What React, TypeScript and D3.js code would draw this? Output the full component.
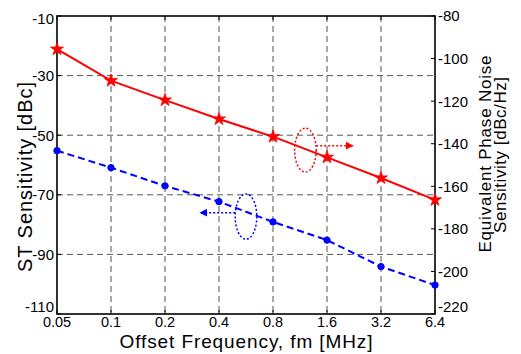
import { useEffect, useRef } from "react";
import * as d3 from "d3";

const freqs = ["0.05", "0.1", "0.2", "0.4", "0.8", "1.6", "3.2", "6.4"];
// left axis: ST sensitivity [dBc]
const stSensitivity = [-55.2, -60.9, -67.0, -72.3, -79.1, -85.2, -94.1, -100.3];
// right axis: equivalent phase noise sensitivity [dBc/Hz]
const phaseNoise = [-95.6, -110.4, -119.5, -128.4, -136.7, -146.4, -156.1, -166.4];
const leftTicks = [-110, -90, -70, -50, -30, -10];
const rightTicks = [-220, -200, -180, -160, -140, -120, -100, -80];

// annotation ellipses / arrows, in data units (x = category index)
const redNote = { cx: 4.6, cy: -143, rx: 0.2, ry: 10.3, x0: 4.8, x1: 5.48, y: -140.9 };
const blueNote = { cx: 3.5, cy: -77.3, rx: 0.2, ry: 7.6, x0: 3.3, x1: 2.65, y: -76 };

const App = () => {
  const svgRef = useRef<SVGSVGElement>(null);

  useEffect(() => {
    const svg = d3.select(svgRef.current);
    svg.selectAll("*").remove();

    const width = 521, height = 354;
    const margin = { left: 57, top: 16, right: 86, bottom: 40 };
    const innerW = width - margin.left - margin.right;
    const innerH = height - margin.top - margin.bottom;
    const font = "Arial, 'Liberation Sans', Helvetica, sans-serif";

    const x = d3.scalePoint<string>().domain(freqs).range([0, innerW]);
    const step = x.step();
    const xi = (i: number) => i * step;
    const yL = d3.scaleLinear().domain([-110, -10]).range([innerH, 0]);
    const yR = d3.scaleLinear().domain([-220, -80]).range([innerH, 0]);

    svg.attr("viewBox", `0 0 ${width} ${height}`);

    const defs = svg.append("defs");
    const mk = (id: string, color: string) =>
      defs.append("marker")
        .attr("id", id)
        .attr("viewBox", "0 0 10 10")
        .attr("refX", 9).attr("refY", 5)
        .attr("markerWidth", 8).attr("markerHeight", 8)
        .attr("markerUnits", "userSpaceOnUse")
        .attr("orient", "auto")
        .append("path").attr("d", "M0,0 L10,5 L0,10 Z").attr("fill", color);
    mk("arrRed", "red");
    mk("arrBlue", "blue");

    const g = svg.append("g").attr("transform", `translate(${margin.left},${margin.top})`);

    // grid
    const grid = g.append("g")
      .attr("stroke", "#555")
      .attr("stroke-width", 1)
      .attr("stroke-dasharray", "6,4");
    grid.selectAll("line.v")
      .data(freqs.slice(1, -1))
      .enter().append("line")
      .attr("x1", d => x(d)!).attr("x2", d => x(d)!)
      .attr("y1", 0).attr("y2", innerH);
    grid.selectAll("line.h")
      .data(leftTicks.slice(1, -1))
      .enter().append("line")
      .attr("x1", 0).attr("x2", innerW)
      .attr("y1", d => yL(d)).attr("y2", d => yL(d));

    // ticks (inside)
    const ticks = g.append("g").attr("stroke", "black").attr("stroke-width", 1);
    freqs.forEach(f => {
      ticks.append("line").attr("x1", x(f)!).attr("x2", x(f)!).attr("y1", innerH).attr("y2", innerH - 4);
      ticks.append("line").attr("x1", x(f)!).attr("x2", x(f)!).attr("y1", 0).attr("y2", 4);
    });
    leftTicks.forEach(v => {
      ticks.append("line").attr("x1", 0).attr("x2", 4).attr("y1", yL(v)).attr("y2", yL(v));
    });
    rightTicks.forEach(v => {
      ticks.append("line").attr("x1", innerW).attr("x2", innerW - 4).attr("y1", yR(v)).attr("y2", yR(v));
    });

    // frame
    g.append("rect")
      .attr("width", innerW).attr("height", innerH)
      .attr("fill", "none").attr("stroke", "black").attr("stroke-width", 1.6);

    // tick labels (lowest y labels lifted so they clear the x labels)
    g.append("g").selectAll("text")
      .data(freqs).enter().append("text")
      .attr("x", d => x(d)!).attr("y", innerH + 13)
      .attr("text-anchor", "middle")
      .attr("font-family", font).attr("font-size", 14.5)
      .text(d => d);
    g.append("g").selectAll("text")
      .data(leftTicks).enter().append("text")
      .attr("x", -3).attr("y", d => yL(d))
      .attr("dy", (_, i) => (i === 0 ? "-0.12em" : i === leftTicks.length - 1 ? "0.55em" : "0.36em"))
      .attr("text-anchor", "end")
      .attr("font-family", font).attr("font-size", 15)
      .text(d => d);
    g.append("g").selectAll("text")
      .data(rightTicks).enter().append("text")
      .attr("x", innerW + 3).attr("y", d => yR(d))
      .attr("dy", (_, i) => (i === 0 ? "-0.12em" : "0.36em"))
      .attr("text-anchor", "start")
      .attr("font-family", font).attr("font-size", 15)
      .text(d => d);

    // series: phase noise (red, right axis)
    const lineR = d3.line<number>().x((_, i) => x(freqs[i])!).y(d => yR(d));
    g.append("path").datum(phaseNoise)
      .attr("fill", "none").attr("stroke", "red").attr("stroke-width", 2)
      .attr("d", lineR);
    g.selectAll("path.star").data(phaseNoise).enter().append("path")
      .attr("class", "star")
      .attr("transform", (d, i) => `translate(${x(freqs[i])},${yR(d)})`)
      .attr("d", d3.symbol().type(d3.symbolStar).size(52)())
      .attr("fill", "red").attr("stroke", "red").attr("stroke-width", 0.8);

    // series: ST sensitivity (blue, left axis)
    const lineL = d3.line<number>().x((_, i) => x(freqs[i])!).y(d => yL(d));
    g.append("path").datum(stSensitivity)
      .attr("fill", "none").attr("stroke", "blue").attr("stroke-width", 2)
      .attr("stroke-dasharray", "7,4")
      .attr("d", lineL);
    g.selectAll("circle.pt").data(stSensitivity).enter().append("circle")
      .attr("class", "pt")
      .attr("cx", (_, i) => x(freqs[i])!).attr("cy", d => yL(d))
      .attr("r", 3.2)
      .attr("fill", "blue").attr("stroke", "blue").attr("stroke-width", 1);

    // annotations
    g.append("ellipse")
      .attr("cx", xi(redNote.cx)).attr("cy", yR(redNote.cy))
      .attr("rx", redNote.rx * step).attr("ry", yR(-80 - redNote.ry) - yR(-80))
      .attr("fill", "none").attr("stroke", "red").attr("stroke-width", 1.5)
      .attr("stroke-dasharray", "2,2");
    g.append("line")
      .attr("x1", xi(redNote.x0)).attr("x2", xi(redNote.x1))
      .attr("y1", yR(redNote.y)).attr("y2", yR(redNote.y))
      .attr("stroke", "red").attr("stroke-width", 1.5).attr("stroke-dasharray", "2,2")
      .attr("marker-end", "url(#arrRed)");
    g.append("ellipse")
      .attr("cx", xi(blueNote.cx)).attr("cy", yL(blueNote.cy))
      .attr("rx", blueNote.rx * step).attr("ry", yL(-10 - blueNote.ry) - yL(-10))
      .attr("fill", "none").attr("stroke", "blue").attr("stroke-width", 1.5)
      .attr("stroke-dasharray", "2,2");
    g.append("line")
      .attr("x1", xi(blueNote.x0)).attr("x2", xi(blueNote.x1))
      .attr("y1", yL(blueNote.y)).attr("y2", yL(blueNote.y))
      .attr("stroke", "blue").attr("stroke-width", 1.5).attr("stroke-dasharray", "2,2")
      .attr("marker-end", "url(#arrBlue)");

    // axis titles
    svg.append("text")
      .attr("x", margin.left + innerW / 2).attr("y", 348)
      .attr("text-anchor", "middle")
      .attr("font-family", font).attr("font-size", 19)
      .attr("textLength", 253).attr("lengthAdjust", "spacing")
      .text("Offset Frequency, fm [MHz]");
    svg.append("text")
      .attr("transform", "translate(32,177) rotate(-90)")
      .attr("text-anchor", "middle")
      .attr("font-family", font).attr("font-size", 20)
      .attr("textLength", 190).attr("lengthAdjust", "spacing")
      .text("ST Sensitivity [dBc]");
    svg.append("text")
      .attr("transform", "translate(491,154) rotate(-90)")
      .attr("text-anchor", "middle")
      .attr("font-family", font).attr("font-size", 17)
      .attr("textLength", 197).attr("lengthAdjust", "spacing")
      .text("Equivalent Phase Noise");
    svg.append("text")
      .attr("transform", "translate(506,155) rotate(-90)")
      .attr("text-anchor", "middle")
      .attr("font-family", font).attr("font-size", 17)
      .attr("textLength", 156).attr("lengthAdjust", "spacing")
      .text("Sensitivity [dBc/Hz]");
  }, []);

  return (
    <svg
      ref={svgRef}
      width={521}
      height={354}
      style={{ position: "absolute", left: 0, top: 0, background: "white" }}
    />
  );
};

export default App;
